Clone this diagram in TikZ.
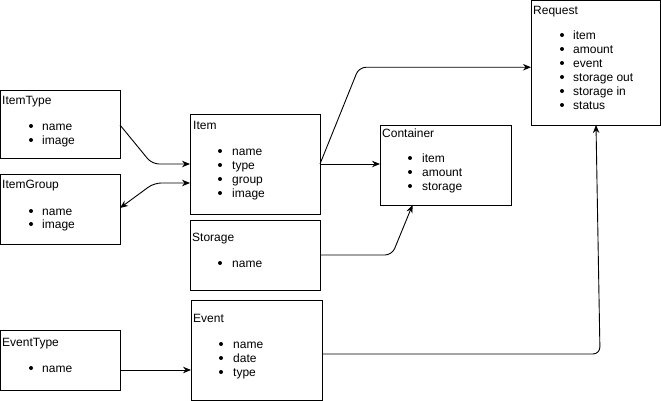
\documentclass[tikz,border=0pt]{standalone}
\usepackage{fontspec}
\setmainfont{Liberation Sans}
\usetikzlibrary{calc,arrows.meta}
\begin{document}
\begin{tikzpicture}[x=1pt,y=-1pt,
  box/.style={draw=black,line width=0.9pt,anchor=north west,inner sep=0pt,outer sep=0pt},
  txt/.style={anchor=west,inner sep=0pt,text height=8.6pt,text depth=2.6pt,yshift=-1.2pt,font=\fontsize{12}{14}\selectfont},
  bul/.style={circle,fill=black,inner sep=0pt,minimum size=4pt},
  conn/.style={draw=black,line width=0.9pt,rounded corners=7pt,-{Stealth[length=8pt,width=6.5pt]}},
  conn2/.style={draw=black,line width=0.9pt,rounded corners=7pt,{Stealth[length=8pt,width=6.5pt]}-{Stealth[length=8pt,width=6.5pt]}}]
\useasboundingbox (0,0) rectangle (661,401);
% boxes
\node[box,minimum width=119.5pt,minimum height=68pt] (itemtype) at (0.5,90) {};
\node[box,minimum width=119.5pt,minimum height=70pt] (itemgroup) at (0.5,174) {};
\node[box,minimum width=130pt,minimum height=100pt] (item) at (190,114) {};
\node[box,minimum width=130pt,minimum height=70pt] (storage) at (190,220) {};
\node[box,minimum width=131pt,minimum height=100pt] (event) at (191,300) {};
\node[box,minimum width=119.5pt,minimum height=60pt] (eventtype) at (0.5,330) {};
\node[box,minimum width=131pt,minimum height=80pt] (container) at (380,125) {};
\node[box,minimum width=129pt,minimum height=124.5pt] (request) at (531,0.5) {};
% ItemType
\node[txt] (itemtype-t) at (2,100) {ItemType};
\node[bul] (itemtype-b1) at (31,126) {}; \node[txt] (itemtype-1) at (42,126) {name};
\node[bul] (itemtype-b2) at (31,140) {}; \node[txt] (itemtype-2) at (42,140) {image};
% ItemGroup
\node[txt] (itemgroup-t) at (2,184) {ItemGroup};
\node[bul] (itemgroup-b1) at (31,211) {}; \node[txt] (itemgroup-1) at (42,211) {name};
\node[bul] (itemgroup-b2) at (31,224) {}; \node[txt] (itemgroup-2) at (42,224) {image};
% Item
\node[txt] (item-t) at (193,125) {Item};
\node[bul] (item-b1) at (220,151) {}; \node[txt] (item-1) at (232,151) {name};
\node[bul] (item-b2) at (220,165) {}; \node[txt] (item-2) at (232,165) {type};
\node[bul] (item-b3) at (220,179) {}; \node[txt] (item-3) at (232,179) {group};
\node[bul] (item-b4) at (220,193) {}; \node[txt] (item-4) at (232,193) {image};
% Storage
\node[txt] (storage-t) at (192,237) {Storage};
\node[bul] (storage-b1) at (220,263) {}; \node[txt] (storage-1) at (232,263) {name};
% Event
\node[txt] (event-t) at (193,318) {Event};
\node[bul] (event-b1) at (221,344) {}; \node[txt] (event-1) at (233,344) {name};
\node[bul] (event-b2) at (221,358) {}; \node[txt] (event-2) at (233,358) {date};
\node[bul] (event-b3) at (221,372) {}; \node[txt] (event-3) at (233,372) {type};
% EventType
\node[txt] (eventtype-t) at (2,342) {EventType};
\node[bul] (eventtype-b1) at (31,368) {}; \node[txt] (eventtype-1) at (42,368) {name};
% Container
\node[txt] (container-t) at (382,133) {Container};
\node[bul] (container-b1) at (410,158) {}; \node[txt] (container-1) at (422,158) {item};
\node[bul] (container-b2) at (410,172) {}; \node[txt] (container-2) at (422,172) {amount};
\node[bul] (container-b3) at (410,186) {}; \node[txt] (container-3) at (422,186) {storage};
% Request
\node[txt] (request-t) at (533,10) {Request};
\node[bul] (request-b1) at (562,35) {}; \node[txt] (request-1) at (573,35) {item};
\node[bul] (request-b2) at (562,49) {}; \node[txt] (request-2) at (573,49) {amount};
\node[bul] (request-b3) at (562,63) {}; \node[txt] (request-3) at (573,63) {event};
\node[bul] (request-b4) at (562,77) {}; \node[txt] (request-4) at (573,77) {storage out};
\node[bul] (request-b5) at (562,91) {}; \node[txt] (request-5) at (573,91) {storage in};
\node[bul] (request-b6) at (562,105) {}; \node[txt] (request-6) at (573,105) {status};
% connectors
\draw[conn] ($(itemtype.east)+(0,1)$) -- ($(item.west)+(-38,0)$) -- (item.west);
\draw[conn2] ($(itemgroup.east)+(0,-1)$) -- ($(item.west)+(-36,19)$) -- ($(item.west)+(0,19)$);
\draw[conn] (item.east) -- (item.east -| container.west);
\draw[conn] (item.east) -- ($(request.west)+(-172,4.5)$) -- ($(request.west)+(0,4.5)$);
\draw[conn] (storage.east) -- ($(storage.east)+(72,0)$) -- ($(container.south)+(-33,0)$);
\draw[conn] ($(event.east)+(0,4)$) -- ($(event.east)+(278,4)$) -- ($(request.south)+(0.5,0)$);
\draw[conn] ($(eventtype.east)+(0,10)$) -- ($(event.west)+(0,20)$);
\end{tikzpicture}
\end{document}
